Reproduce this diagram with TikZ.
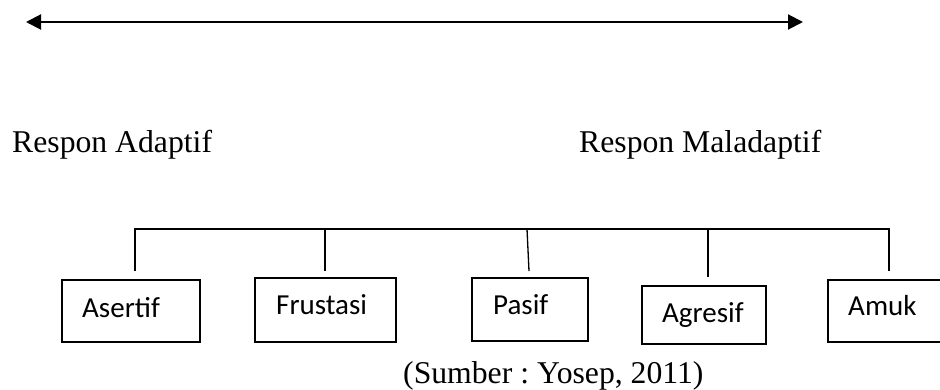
\documentclass[tikz,border=0pt]{standalone}
\usepackage{fontspec}
\setmainfont{Liberation Serif}
\newfontfamily\boxfont{Carlito}
\usetikzlibrary{arrows.meta}
\frenchspacing
\begin{document}
\begin{tikzpicture}[x=1pt,y=-1pt,
  boxnode/.style={draw, line width=1.6pt, rectangle, inner sep=0pt, anchor=north west},
  boxlabel/.style={anchor=base west, inner sep=0pt, font=\boxfont\fontsize{29}{34}\selectfont},
  bigtext/.style={anchor=base west, inner sep=0pt, font=\fontsize{31.7}{38}\selectfont},
  link/.style={line width=1.3pt}
]
\useasboundingbox (0,0) rectangle (940,390);
% double arrow
\coordinate (al) at (26,22);
\coordinate (ar) at (803,22);
\draw[{Triangle[length=15pt,width=15pt]}-{Triangle[length=15pt,width=15pt]}, line width=2pt] (al) -- (ar);
% texts
\node[bigtext] (ra) at (12,153) {Respon Adaptif};
\node[bigtext] (rm) at (579,153) {Respon Maladaptif};
\node[bigtext] (src) at (403,383) {(Sumber : Yosep, 2011)};
% boxes
\node[boxnode, minimum width=138pt, minimum height=62pt] (b1) at (61,279) {};
\node[boxnode, minimum width=141pt, minimum height=64pt] (b2) at (254,277) {};
\node[boxnode, minimum width=116pt, minimum height=63pt] (b3) at (471,277) {};
\node[boxnode, minimum width=124pt, minimum height=58pt] (b4) at (641,285) {};
\node[boxnode, minimum width=114pt, minimum height=62pt] (b5) at (827,279) {};
\node[boxlabel] (t1) at (82,317) {Asertif};
\node[boxlabel] (t2) at (276,314) {Frustasi};
\node[boxlabel] (t3) at (493,314) {Pasif};
\node[boxlabel] (t4) at (662,322) {Agresif};
\node[boxlabel] (t5) at (848,315) {Amuk};
% tree bar
\coordinate (h1) at (135,229);
\coordinate (h2) at (325,229);
\coordinate (h3) at (527,229);
\coordinate (h4) at (708,229);
\coordinate (h5) at (889,229);
\coordinate (v1) at (135,271);
\coordinate (v2) at (325,271);
\coordinate (v3) at (529,271);
\coordinate (v4) at (708,277);
\coordinate (v5) at (889,271);
\draw[link] (v1) -- (h1) -- (h5) -- (v5);
\draw[link] (h2) -- (v2);
\draw[link] (h3) -- (v3);
\draw[link] (h4) -- (v4);
\end{tikzpicture}
\end{document}
